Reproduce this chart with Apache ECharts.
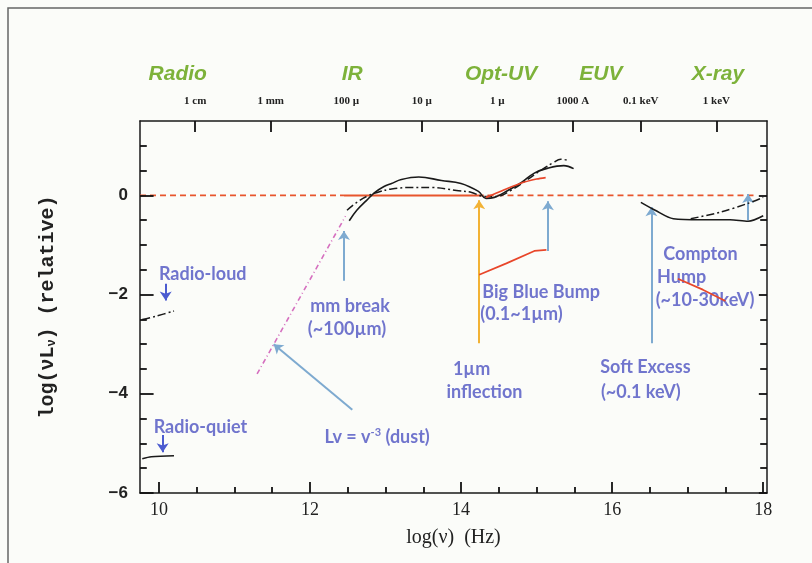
<!DOCTYPE html>
<html><head><meta charset="utf-8">
<script src="https://cdn.jsdelivr.net/npm/echarts@6/dist/echarts.min.js"></script>
<style>html,body{margin:0;padding:0;background:#fbfcf9}#c{width:812px;height:563px}</style>
</head><body><div id="c"></div>
<script>
// ---- data (log nu [Hz], log nuLnu relative) ----
const radioQuiet = [[9.78,-5.31],[9.9,-5.27],[10.2,-5.25]];
const radioLoud = [[9.78,-2.50],[9.95,-2.44],[10.2,-2.33]];
const quietIRUV = [[12.52,-0.51],[12.62,-0.30],[12.75,-0.10],[12.86,0.06],[12.98,0.18],[13.08,0.24],[13.21,0.32],[13.44,0.37],[13.74,0.30],[14.0,0.24],[14.23,0.08],[14.33,-0.06],[14.44,-0.04],[14.62,0.10],[14.80,0.26],[14.97,0.45],[15.15,0.55],[15.36,0.60],[15.49,0.54]];
const loudIRUV = [[12.49,-0.30],[12.62,-0.14],[12.75,-0.02],[12.89,0.06],[13.08,0.13],[13.35,0.16],[13.61,0.16],[13.94,0.10],[14.14,0.06],[14.30,-0.02],[14.47,-0.02],[14.66,0.10],[14.86,0.30],[15.06,0.51],[15.22,0.66],[15.32,0.73],[15.43,0.70]];
const quietX = [[16.38,-0.14],[16.57,-0.30],[16.81,-0.47],[17.17,-0.49],[17.56,-0.49],[17.80,-0.52],[18.0,-0.41]];
const loudX = [[17.04,-0.47],[17.43,-0.34],[17.80,-0.16],[18.0,-0.04]];
const zeroDashLeft = [[9.75,0],[12.45,0]];
const zeroSolid = [[12.45,0],[14.3,0]];
const zeroDashRight = [[14.35,0],[17.92,0]];
const bbbUpper = [[14.33,-0.04],[14.55,0.10],[14.80,0.25],[15.0,0.33],[15.12,0.36]];
const bbbLower = [[14.24,-1.60],[14.6,-1.37],[14.97,-1.12],[15.13,-1.10]];
const comptonRed = [[16.87,-1.68],[17.2,-1.90],[17.5,-2.13]];
const dustLine = [[11.3,-3.6],[12.47,-0.42]];
const inflectionArrow = [[14.24,-2.98],[14.24,-0.1]];
const blueArrows = [
  [[12.45,-1.72],[12.45,-0.72]],
  [[15.15,-1.12],[15.15,-0.12]],
  [[16.52,-2.98],[16.52,-0.24]],
  [[17.8,-0.50],[17.8,0.03]],
  [[12.56,-4.32],[11.52,-3.0]]
];
const radioArrows = [
  [[10.09,-1.78],[10.09,-2.12]],
  [[10.05,-4.83],[10.05,-5.18]]
];
const notes = [
  [10.58,-1.58,'Radio-loud'],
  [10.55,-4.67,'Radio-quiet'],
  [12.53,-2.23,'mm break'],
  [12.49,-2.70,'(~100µm)'],
  [12.89,-4.87,'Lv = v{s|-3} (dust)'],
  [15.06,-1.95,'Big Blue Bump'],
  [14.80,-2.39,'(0.1~1µm)'],
  [14.14,-3.51,'1µm'],
  [14.31,-3.96,'inflection'],
  [16.44,-3.47,'Soft Excess'],
  [16.38,-3.96,'(~0.1 keV)'],
  [17.17,-1.18,'Compton'],
  [16.92,-1.64,'Hump'],
  [17.23,-2.11,'(~10-30keV)']
];
const xMajor = [10,12,14,16,18];
const xMinor = [10.5,11,11.5,12.5,13,13.5,14.5,15,15.5,16.5,17,17.5];
const yMajor = [-6,-4,-2,0];
const yMinor = [-5.5,-5,-4.5,-3.5,-3,-2.5,-1.5,-1,-0.5,0.5,1];
const wavePos = [10.48,11.48,12.48,13.48,14.48,15.48,16.38,17.38];
const waveLabels = ['1 cm','1 mm','100 µ','10 µ','1 µ','1000 A','0.1 keV','1 keV'];
const bandPos = [10.25,12.56,14.53,15.85,17.4];
const bandLabels = ['Radio','IR','Opt-UV','EUV','X-ray'];

const XMIN = 9.75, XMAX = 18.05, YMIN = -6, YMAX = 1.5;
const ink = '#1a1a1a';
const baseX = {type:'value',min:XMIN,max:XMAX,splitLine:{show:false},axisTick:{show:false}};
const baseY = {type:'value',min:YMIN,max:YMAX,interval:0.5,splitLine:{show:false},axisTick:{show:false}};
const NOZERO = 2;

// tick marks along the frame, lengths in axis units (axis ranges are fixed)
const TX = 0.12, TX2 = 0.22, TY = 0.09, TY2 = 0.18;
const tickSegs = [].concat(
  xMinor.map(v=>[[v,YMIN],[v,YMIN+TX]]), xMajor.map(v=>[[v,YMIN],[v,YMIN+TX2]]),
  wavePos.map(v=>[[v,YMAX],[v,YMAX-TX2]]),
  yMinor.map(v=>[[XMIN,v],[XMIN+TY,v]]), yMajor.map(v=>[[XMIN,v],[XMIN+TY2,v]]),
  yMinor.map(v=>[[XMAX,v],[XMAX-TY,v]]), yMajor.map(v=>[[XMAX,v],[XMAX-TY*1.2,v]])
);

function lineS(data, opts){
  return Object.assign({type:'line',data:data,showSymbol:false,symbol:'none',
    lineStyle:{color:ink,width:1.6},z:3,animation:false,silent:true}, opts||{});
}
function segS(list, color, width, z, arrow){
  return {type:'lines',coordinateSystem:'cartesian2d',xAxisIndex:0,yAxisIndex:0,clip:false,
    symbol:arrow?['none','arrow']:['none','none'],symbolSize:9,animation:false,silent:true,z:z||4,
    lineStyle:{color:color,width:width,opacity:1},
    data:list.map(c=>({coords:c}))};
}

const chart = echarts.init(document.getElementById('c'));
chart.setOption({
  backgroundColor:'#fbfcf9',
  animation:false,
  grid:{left:140,right:45,top:121,bottom:70},
  graphic:[{type:'rect',shape:{x:8,y:8,width:830,height:590},style:{fill:'none',stroke:'#666',lineWidth:1.5},silent:true}],
  xAxis:[
    Object.assign({},baseX,{position:'bottom',
      axisLine:{show:true,onZeroAxisIndex:NOZERO,lineStyle:{color:ink,width:1.5}},
      axisLabel:{customValues:xMajor,color:'#222',fontFamily:'Liberation Serif',fontSize:18,margin:8},
      name:'log(ν)  (Hz)',nameLocation:'middle',nameGap:35,
      nameTextStyle:{fontFamily:'Liberation Serif',fontSize:20,color:'#222'}}),
    Object.assign({},baseX,{position:'top',
      axisLine:{show:true,onZeroAxisIndex:NOZERO,lineStyle:{color:ink,width:1.5}},
      axisLabel:{customValues:wavePos,margin:14,color:'#222',fontFamily:'Liberation Serif',fontWeight:'bold',fontSize:11,
        formatter:v=>{const i=wavePos.findIndex(p=>Math.abs(p-v)<1e-6);return i>=0?waveLabels[i]:'';}}}),
    Object.assign({},baseX,{position:'top',axisLine:{show:false,onZeroAxisIndex:NOZERO},
      axisLabel:{customValues:bandPos,margin:36,color:'#7db23a',fontFamily:'Liberation Sans',fontWeight:'bold',fontStyle:'italic',fontSize:21,
        formatter:v=>{const i=bandPos.findIndex(p=>Math.abs(p-v)<1e-6);return i>=0?bandLabels[i]:'';}}})
  ],
  yAxis:[
    Object.assign({},baseY,{position:'left',
      axisLine:{show:true,lineStyle:{color:ink,width:1.5}},
      axisLabel:{customValues:yMajor,color:'#222',fontFamily:'Liberation Sans',fontWeight:'bold',fontSize:17,margin:12,
        formatter:v=>v<0?'\u2212'+Math.abs(v):String(v)},
      name:'{a|log(νL}{b|ν}{a|) (relative)}',nameLocation:'middle',nameGap:82,nameRotate:90,
      nameTextStyle:{rich:{a:{fontFamily:'Liberation Mono',fontWeight:'bold',fontSize:20,color:'#222'},
                           b:{fontFamily:'Liberation Mono',fontWeight:'bold',fontSize:12,color:'#222',verticalAlign:'bottom',padding:[8,0,0,0]}}}}),
    Object.assign({},baseY,{position:'right',
      axisLine:{show:true,lineStyle:{color:ink,width:1.5}},axisLabel:{show:false}}),
    {type:'value',min:1,max:2,show:false}
  ],
  series:[
    lineS(zeroDashLeft,{lineStyle:{color:'#e8552d',width:1.6,type:[6,4]},z:2}),
    lineS(zeroSolid,{lineStyle:{color:'#e8552d',width:2},z:2}),
    lineS(zeroDashRight,{lineStyle:{color:'#e8552d',width:1.6,type:[6,4]},z:2}),
    lineS(dustLine,{lineStyle:{color:'#d56fbf',width:1.6,type:[5,3,1,3]},z:2}),
    lineS(radioQuiet,{smooth:0.3}),
    lineS(radioLoud,{smooth:0.3,lineStyle:{color:ink,width:1.5,type:[8,3,2,3]}}),
    lineS(quietIRUV,{smooth:0.4}),
    lineS(loudIRUV,{smooth:0.4,lineStyle:{color:ink,width:1.5,type:[8,3,2,3]}}),
    lineS(quietX,{smooth:0.3}),
    lineS(loudX,{smooth:0.3,lineStyle:{color:ink,width:1.5,type:[8,3,2,3]}}),
    lineS(bbbUpper,{smooth:0.3,lineStyle:{color:'#e8462a',width:1.7},z:4}),
    lineS(bbbLower,{lineStyle:{color:'#e8462a',width:1.7},z:4}),
    lineS(comptonRed,{lineStyle:{color:'#e8462a',width:1.7},z:6}),
    segS([inflectionArrow],'#f2b235',2,3,true),
    segS(blueArrows,'#7eaad0',2,3,true),
    segS(radioArrows,'#4b5bd0',2,3,true),
    segS(tickSegs, '#111', 1.8, 7, false),
    {type:'scatter',data:notes,symbolSize:0,silent:true,animation:false,z:5,
      encode:{x:0,y:1},
      label:{show:true,position:'inside',formatter:p=>p.data[2],
        color:'#4d52c2',fontFamily:'Lato',fontWeight:'bold',fontSize:18,
        rich:{s:{fontFamily:'Lato',fontWeight:'bold',fontSize:11,color:'#4d52c2',verticalAlign:'top',padding:[0,0,8,0]}}}}
  ]
});
</script></body></html>
